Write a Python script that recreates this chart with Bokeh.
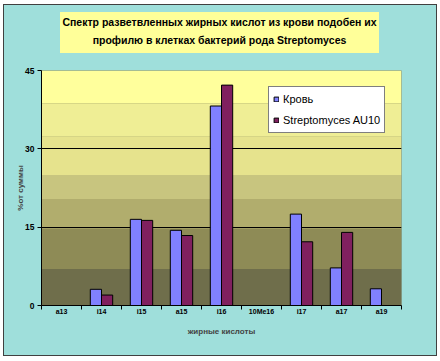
import numpy as np
from bokeh.plotting import figure
from bokeh.layouts import column
from bokeh.models import (Range1d, FixedTicker, BoxAnnotation, Legend,
                          LegendItem, ColumnDataSource, Div)
from bokeh.transform import dodge
from bokeh.embed import file_html
from bokeh.resources import INLINE

# ---- data ----
categories = ["a13", "i14", "i15", "a15", "i16", "10Me16", "i17", "a17", "a19"]
blood = [0, 3.1, 16.5, 14.4, 38.2, 0, 17.5, 7.2, 3.2]
strep = [0, 2.0, 16.3, 13.4, 42.2, 0, 12.2, 14.0, 0]
y_ticks = [0, 15, 30, 45]
series_names = ["Кровь", "Streptomyces AU10"]
title_lines = ["Спектр разветвленных жирных кислот из крови подобен  их",
               "профилю в клетках бактерий рода Streptomyces"]
x_label = "жирные кислоты"
y_label = "%от суммы"

# ---- style ----
CYAN = "#9FDFDB"
BLUE = "#8080FF"
MAROON = "#80205F"
TITLE_BG = "#FFFF99"
FONT = "Liberation Sans"
bands = [(0, 7, "#6F6E4B"), (7, 14.7, "#8E8B56"), (14.7, 20.4, "#B1AD6D"),
         (20.4, 25, "#C8C57F"), (25, 32.3, "#E6E38D"), (32.3, 38.7, "#EFEE95"),
         (38.7, 45, "#FFFF9C")]

# ---- title box ----
title = Div(text="<br>".join(title_lines), width=319, height=41,
            margin=(7, 0, 0, 56),
            styles={"background-color": TITLE_BG, "text-align": "center",
                    "font-family": FONT, "font-weight": "bold",
                    "font-size": "10.5px", "line-height": "18px",
                    "color": "black", "padding-top": "1px",
                    "box-sizing": "border-box", "white-space": "nowrap"})

# ---- main chart ----
idx = np.arange(len(categories)) + 0.5
src = ColumnDataSource(dict(x=idx, blood=blood, strep=strep))

p = figure(width=432, height=302,
           x_range=Range1d(0, len(categories)), y_range=Range1d(0, 45),
           output_backend="svg", toolbar_location=None,
           min_border_left=37, min_border_right=35,
           min_border_top=17, min_border_bottom=50)
p.border_fill_color = CYAN
p.background_fill_color = bands[0][2]
p.outline_line_color = None
p.title = None

for b, t, c in bands:
    p.add_layout(BoxAnnotation(bottom=b, top=t, fill_color=c, fill_alpha=1,
                               line_color=None, level="image"))

w = 0.28
r1 = p.vbar(x=dodge("x", -w / 2), top="blood", width=w, source=src,
            fill_color=BLUE, line_color="black", line_width=1)
r2 = p.vbar(x=dodge("x", w / 2), top="strep", width=w, source=src,
            fill_color=MAROON, line_color="black", line_width=1)

# x axis
xa = p.xaxis[0]
xa.ticker = FixedTicker(ticks=list(idx), minor_ticks=list(range(len(categories) + 1)))
xa.major_label_overrides = {float(v): c for v, c in zip(idx, categories)}
xa.major_tick_line_color = None
xa.major_tick_out = 0
xa.major_tick_in = 0
xa.minor_tick_line_color = "black"
xa.minor_tick_out = 4
xa.minor_tick_in = 0
xa.major_label_standoff = -2
xa.major_label_text_font = FONT
xa.major_label_text_font_style = "bold"
xa.major_label_text_font_size = "7px"
xa.major_label_text_color = "black"
xa.axis_label = x_label
xa.axis_label_text_font = FONT
xa.axis_label_text_font_style = "bold"
xa.axis_label_text_font_size = "8px"
xa.axis_label_standoff = 9
xa.axis_line_color = "black"

# y axis
ya = p.yaxis[0]
ya.ticker = FixedTicker(ticks=y_ticks)
ya.minor_tick_line_color = None
ya.major_tick_out = 4
ya.major_tick_in = 0
ya.major_tick_line_color = "black"
ya.major_label_standoff = 3
ya.major_label_text_font = FONT
ya.major_label_text_font_style = "bold"
ya.major_label_text_font_size = "8.5px"
ya.major_label_text_color = "black"
ya.axis_label = y_label
ya.axis_label_text_font = FONT
ya.axis_label_text_font_style = "bold"
ya.axis_label_text_font_size = "8px"
ya.axis_label_standoff = -3
ya.axis_line_color = "black"

p.xgrid.visible = False
p.ygrid.ticker = FixedTicker(ticks=y_ticks[1:-1])
p.ygrid.grid_line_color = "black"
p.ygrid.grid_line_width = 1
p.ygrid.level = "underlay"

legend = Legend(items=[LegendItem(label=series_names[0], renderers=[r1]),
                       LegendItem(label=series_names[1], renderers=[r2])],
                location=(227, 172), margin=0, padding=4,
                glyph_width=6, glyph_height=6, label_standoff=4,
                label_height=16, spacing=5,
                label_text_font=FONT,
                label_text_font_size="11px", label_text_color="black",
                background_fill_color="white", background_fill_alpha=1,
                border_line_color="black", border_line_width=1)
p.add_layout(legend)

layout = column(title, p, margin=(4, 0, 0, 3), spacing=0,
                styles={"background-color": CYAN, "border": "1px solid #404040"})

open("out.html", "w").write(file_html(layout, INLINE))
